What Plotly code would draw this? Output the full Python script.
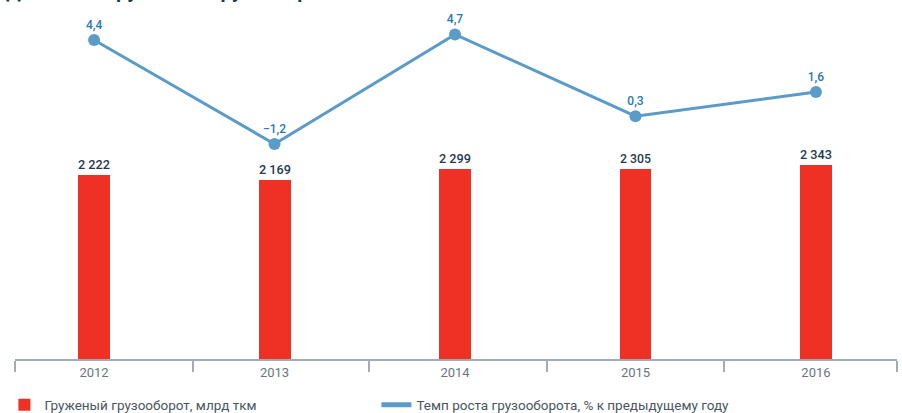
import plotly.graph_objects as go

years = ["2012", "2013", "2014", "2015", "2016"]
freight = [2222, 2169, 2299, 2305, 2343]
growth = [4.4, -1.2, 4.7, 0.3, 1.6]

title_text = "Динамика груженого грузооборота"
bar_name = "Груженый грузооборот, млрд ткм"
line_name = "Темп роста грузооборота, % к предыдущему году"

xpos = list(range(len(years)))
bar_labels = [f"{v:,}".replace(",", " ") for v in freight]
line_labels = [(f"{v:.1f}").replace(".", ",").replace("-", "\u2212") for v in growth]

RED = "#ee3124"
BLUE = "#5b9bc8"
NAVY = "#1f3a4f"

fig = go.Figure()
fig.add_trace(go.Bar(
    x=xpos, y=freight, name=bar_name, width=0.177,
    marker=dict(color=RED, line=dict(width=0)),
    text=bar_labels, textposition="outside", cliponaxis=False,
    textfont=dict(family="Roboto", size=16, color=NAVY, weight=500),
))
fig.add_trace(go.Scatter(
    x=xpos, y=growth, name=line_name, yaxis="y2",
    mode="lines+markers+text", showlegend=False,
    line=dict(color=BLUE, width=3),
    marker=dict(color=BLUE, size=12),
    text=line_labels, textposition="top center", cliponaxis=False,
    textfont=dict(family="Roboto", size=12, color="#2a78b0", weight=500),
))
# legend entry for the line (line-only symbol, as in the reference)
fig.add_trace(go.Scatter(
    x=[None], y=[None], name=line_name, yaxis="y2", mode="lines",
    line=dict(color=BLUE, width=5),
))

fig.add_annotation(
    text=title_text, xref="paper", yref="paper", x=-0.012, y=1.045,
    xanchor="left", yanchor="bottom", showarrow=False,
    font=dict(family="Roboto", size=20, color=NAVY, weight=700),
)

fig.update_layout(
    width=902, height=413,
    margin=dict(l=15, r=5, t=20, b=54, autoexpand=False),
    paper_bgcolor="white", plot_bgcolor="white",
    bargap=0,
    showlegend=True,
    legend=dict(
        orientation="h", x=-0.012, y=-0.09, xanchor="left", yanchor="top",
        font=dict(family="Roboto", size=13.5, color="#4a5560"),
        entrywidth=327, entrywidthmode="pixels",
        traceorder="normal",
    ),
    xaxis=dict(
        range=[-0.438, 4.449], showgrid=False, zeroline=False,
        tickvals=xpos, ticktext=years, ticks="", ticklen=0,
        showline=True, linecolor="#a3abb3", linewidth=2,
        tickfont=dict(family="Roboto", size=13, color="#6b7480"),
        minor=dict(tickvals=[-0.438, 0.548, 1.523, 2.51, 3.49, 4.449],
                   ticks="outside", ticklen=11, tickwidth=2, tickcolor="#a3abb3",
                   showgrid=False),
    ),
    yaxis=dict(range=[0, 4102], visible=False, showgrid=False, zeroline=False),
    yaxis2=dict(range=[-12.78, 5.48], overlaying="y", visible=False,
                showgrid=False, zeroline=False),
)

fig.write_html("out.html")
